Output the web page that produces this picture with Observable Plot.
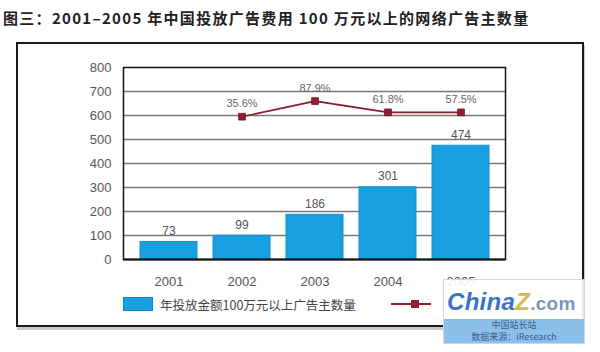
<!DOCTYPE html>
<html>
<head>
<meta charset="utf-8">
<script src="https://cdn.jsdelivr.net/npm/d3@7"></script>
<script src="https://cdn.jsdelivr.net/npm/@observablehq/plot@0.6"></script>
<style>
  html, body { margin: 0; padding: 0; background: #fff; }
  body { width: 600px; height: 352px; position: relative; overflow: hidden;
         font-family: "Noto Sans CJK SC", "Liberation Sans", sans-serif; }
  #title { position: absolute; left: 3px; top: 7px; font-size: 15px; font-weight: bold;
           color: #222; white-space: nowrap; letter-spacing: 1.3px; }
  #frame { position: absolute; left: 16px; top: 42px; width: 564px; height: 281px;
           border: 2px solid #1a1a1a; box-shadow: 1px 3px 0 #c8c8c8; }
  #chart { position: absolute; left: 0; top: 42px; }
  #legend { position: absolute; left: 123px; top: 294px; height: 20px; display: flex;
            align-items: center; font-size: 12.5px; color: #444; white-space: nowrap; }
  .swatch { width: 28px; height: 12px; background: #18a0e0; border: 1px solid #0f86c4; margin-right: 7px; }
  .lineKey { position: relative; width: 40px; height: 12px; margin-left: 35px; }
  .lineKey .ln { position: absolute; left: 0; right: 0; top: 5px; height: 2px; background: #9b1b30; }
  .lineKey .sq { position: absolute; left: 20px; top: 2px; width: 8px; height: 8px; background: #9b1b30; }
  #mark { position: absolute; left: 443px; top: 279px; width: 140px; height: 63px;
          border: 1px solid #cfd8e0; background: rgba(255,255,255,0.9); }
  #mark .logo { position: absolute; left: 3px; top: 8px; font: italic bold 24px "Liberation Sans", sans-serif;
                color: #3a74c4; letter-spacing: 0.3px; }
  #mark .logo .z { color: #d8b850; }
  #mark .logo .com { color: #7896bc; font-style: normal; font-size: 19px; }
  #mark .band { position: absolute; left: 0; right: 0; top: 39px; height: 24px; background: #8cc0ec;
                font-size: 9px; color: #3c5c88; text-align: center; line-height: 12px; }
</style>
</head>
<body>
<div id="title">图三：2001–2005 年中国投放广告费用 100 万元以上的网络广告主数量</div>
<div id="frame"></div>
<div id="chart"></div>
<div id="legend">
  <div class="swatch"></div><span>年投放金额100万元以上广告主数量</span>
  <div class="lineKey"><div class="ln"></div><div class="sq"></div></div>
</div>
<div id="mark"><div class="logo">China<span class="z">Z</span><span class="com">.com</span></div><div class="band">中国站长站<br>数据来源：iResearch</div></div>
<script>
const years = ["2001", "2002", "2003", "2004", "2005"];
const advertisers = [73, 99, 186, 301, 474];
const growthYears = ["2002", "2003", "2004", "2005"];
const growthLabels = ["35.6%", "87.9%", "61.8%", "57.5%"];
const growthPlotted = [595, 660, 613, 613];
const yTicks = [0, 100, 200, 300, 400, 500, 600, 700, 800];

const bars = years.map((year, i) => ({year, value: advertisers[i]}));
const growth = growthYears.map((year, i) => ({year, value: growthPlotted[i], label: growthLabels[i]}));

const chart = Plot.plot({
  width: 600,
  height: 260,
  marginTop: 25,
  marginBottom: 43,
  marginLeft: 123,
  marginRight: 95,
  style: {fontFamily: "'Liberation Sans', Arial, sans-serif", fontSize: "13px", color: "#555", background: "transparent"},
  x: {domain: years, paddingInner: 0.22, paddingOuter: 0.226, label: null},
  y: {domain: [0, 800], label: null},
  marks: [
    Plot.ruleY(yTicks.slice(1, -1), {stroke: "#7a7a7a", strokeWidth: 1.5}),
    Plot.barY(bars, {x: "year", y: "value", fill: "#18a0e0", stroke: "#1190d0", strokeWidth: 1}),
    Plot.text(bars, {x: "year", y: "value", text: d => String(d.value), dy: -11, fill: "#555", fontSize: 12}),
    Plot.line(growth, {x: "year", y: "value", stroke: "#8b1a2c", strokeWidth: 1.6}),
    Plot.dot(growth, {x: "year", y: "value", symbol: "square", r: 3.8, fill: "#9b1b30", stroke: "#6a0f20", strokeWidth: 0.8}),
    Plot.text(growth, {x: "year", y: "value", text: "label", dy: -13, fill: "#666", fontSize: 11}),
    Plot.frame({stroke: "#111", strokeWidth: 1.5}),
    Plot.ruleY([0], {stroke: "#111", strokeWidth: 2.2}),
    Plot.axisX({tickSize: 0, tickPadding: 17, label: null, fill: "#555"}),
    Plot.axisY({ticks: yTicks, tickSize: 0, tickPadding: 12, label: null, fill: "#555"})
  ]
});
document.getElementById("chart").appendChild(chart);
</script>
</body>
</html>
